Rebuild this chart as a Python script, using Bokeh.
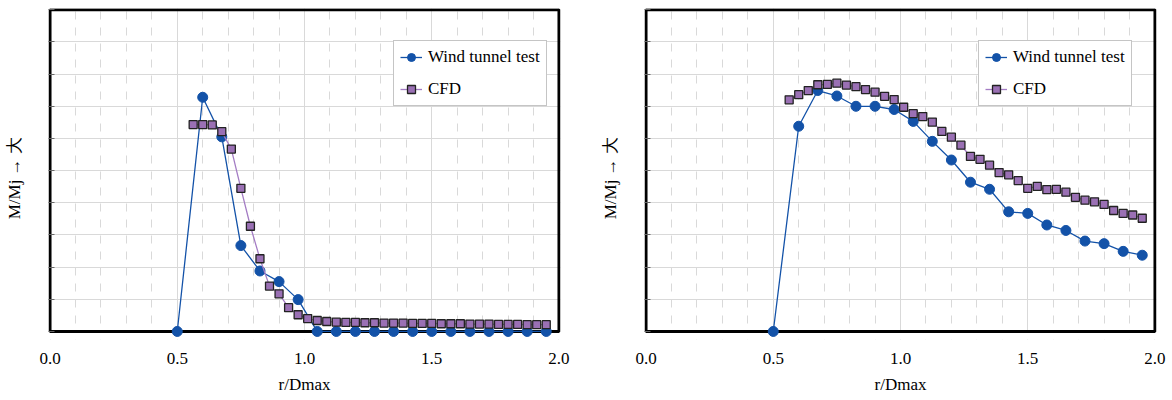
from bokeh.plotting import figure
from bokeh.models import (Range1d, SingleIntervalTicker, BoxAnnotation, Legend,
                          LegendItem, NumeralTickFormatter, CustomJSTickFormatter)
from bokeh.layouts import row
from bokeh.embed import file_html
from bokeh.resources import INLINE

# ---------------- data ----------------
wt_x = [0.5, 0.6, 0.675, 0.75, 0.825, 0.9, 0.975, 1.05, 1.125, 1.2, 1.275,
        1.35, 1.425, 1.5, 1.575, 1.65, 1.725, 1.8, 1.875, 1.95]
cfd_x = [0.5625, 0.6, 0.6375, 0.675, 0.7125, 0.75, 0.7875, 0.825, 0.8625, 0.9,
         0.9375, 0.975, 1.0125, 1.05, 1.0875, 1.125, 1.1625, 1.2, 1.2375, 1.275,
         1.3125, 1.35, 1.3875, 1.425, 1.4625, 1.5, 1.5375, 1.575, 1.6125, 1.65,
         1.6875, 1.725, 1.7625, 1.8, 1.8375, 1.875, 1.9125, 1.95]

left_wt = [0.0, 7.28, 6.05, 2.67, 1.88, 1.55, 0.99, 0.0, 0.0, 0.0, 0.0,
           0.0, 0.0, 0.0, 0.0, 0.0, 0.0, 0.0, 0.0, 0.0]
left_cfd = [6.43, 6.43, 6.42, 6.21, 5.67, 4.45, 3.27, 2.26, 1.41, 1.17,
            0.74, 0.52, 0.40, 0.34, 0.31, 0.29, 0.28, 0.28, 0.27, 0.27,
            0.26, 0.26, 0.26, 0.25, 0.25, 0.25, 0.24, 0.24, 0.24, 0.23,
            0.23, 0.23, 0.22, 0.22, 0.22, 0.21, 0.21, 0.21]

right_wt = [0.0, 6.38, 7.49, 7.32, 7.00, 7.00, 6.90, 6.53, 5.91, 5.33, 4.64,
            4.42, 3.72, 3.67, 3.31, 3.14, 2.81, 2.73, 2.49, 2.37]
right_cfd = [7.20, 7.36, 7.49, 7.67, 7.68, 7.72, 7.66, 7.61, 7.52, 7.44,
             7.31, 7.21, 6.97, 6.77, 6.68, 6.51, 6.22, 6.04, 5.79, 5.44,
             5.35, 5.17, 4.94, 4.87, 4.69, 4.45, 4.51, 4.41, 4.42, 4.33,
             4.17, 4.08, 4.03, 3.95, 3.76, 3.67, 3.62, 3.52]

series_labels = ["Wind tunnel test", "CFD"]
x_label = "r/Dmax"
y_label = "M/Mj  \u2192  \u5927"

# ---------------- style ----------------
FONT = "Liberation Serif"
BLUE = "#1352a8"
PURPLE_LINE = "#a47cc4"
PURPLE_FILL = "#9a70b4"
GRID = "#d9d9d9"


def make_fig(wt, cfd, border_left, border_right, legend_x):
    p = figure(frame_width=512, frame_height=331,
               min_border_left=border_left, min_border_right=border_right,
               min_border_top=8, min_border_bottom=58,
               x_range=Range1d(-0.006, 2.006), y_range=Range1d(-0.25, 10.04),
               output_backend="svg", toolbar_location=None,
               background_fill_color="white", border_fill_color="white")
    p.outline_line_color = None

    # axes
    p.xaxis.ticker = SingleIntervalTicker(interval=0.5, num_minor_ticks=5)
    p.xaxis.formatter = NumeralTickFormatter(format="0.0")
    p.xaxis.axis_line_color = None
    p.xaxis.major_tick_line_color = None
    p.xaxis.minor_tick_line_color = None
    p.xaxis.major_label_text_font = FONT
    p.xaxis.major_label_text_font_size = "17px"
    p.xaxis.major_label_text_color = "black"
    p.xaxis.major_label_standoff = 7
    p.xaxis.axis_label = x_label
    p.xaxis.axis_label_text_font = FONT
    p.xaxis.axis_label_text_font_size = "17px"
    p.xaxis.axis_label_text_font_style = "normal"
    p.xaxis.axis_label_text_color = "black"
    p.xaxis.axis_label_standoff = 8

    p.yaxis.ticker = SingleIntervalTicker(interval=1, num_minor_ticks=0)
    p.yaxis.formatter = CustomJSTickFormatter(code="return ''")
    p.yaxis.axis_line_color = None
    p.yaxis.major_tick_in = 6
    p.yaxis.major_tick_out = 0
    p.yaxis.major_tick_line_color = "#666666"
    p.yaxis.minor_tick_line_color = None
    p.yaxis.major_label_standoff = 0
    p.yaxis.axis_label = y_label
    p.yaxis.axis_label_text_font = FONT
    p.yaxis.axis_label_text_font_size = "17px"
    p.yaxis.axis_label_text_font_style = "normal"
    p.yaxis.axis_label_text_color = "black"
    p.yaxis.axis_label_standoff = 25

    # grids
    p.xgrid.grid_line_color = GRID
    p.xgrid.minor_grid_line_color = GRID
    p.xgrid.minor_grid_line_dash = "8 8"
    p.ygrid.grid_line_color = GRID

    # hide grid below the zero line, then the black frame box
    cover = BoxAnnotation(top=0, fill_color="white", fill_alpha=1.0,
                          line_color=None, level="underlay")
    p.add_layout(cover)
    box = BoxAnnotation(left=0, right=2, bottom=0, top=10, fill_alpha=0,
                        fill_color=None, line_color="black", line_alpha=1.0,
                        line_width=3, level="underlay")
    p.add_layout(box)

    l1 = p.line(wt_x, wt, line_color=BLUE, line_width=1.3)
    s1 = p.scatter(wt_x, wt, marker="circle", size=10, fill_color=BLUE,
                   line_color=BLUE, line_width=1)
    l2 = p.line(cfd_x, cfd, line_color=PURPLE_LINE, line_width=1.3)
    s2 = p.scatter(cfd_x, cfd, marker="square", size=8, fill_color=PURPLE_FILL,
                   line_color="#222222", line_width=1.3)

    legend = Legend(items=[LegendItem(label=series_labels[0], renderers=[l1, s1]),
                           LegendItem(label=series_labels[1], renderers=[l2, s2])],
                    location=(legend_x, 233), margin=0, padding=6, spacing=12,
                    glyph_width=22, glyph_height=20, label_height=20,
                    label_standoff=6,
                    label_text_font=FONT, label_text_font_size="17px",
                    label_text_color="black",
                    border_line_color="#8c8c8c", border_line_width=1,
                    background_fill_color="white", background_fill_alpha=1.0)
    p.add_layout(legend)
    return p


p1 = make_fig(left_wt, left_cfd, 48, 26, 345)
p2 = make_fig(right_wt, right_cfd, 58, 16, 334)
layout = row(p1, p2, spacing=0)

open("out.html", "w").write(file_html(layout, INLINE))
